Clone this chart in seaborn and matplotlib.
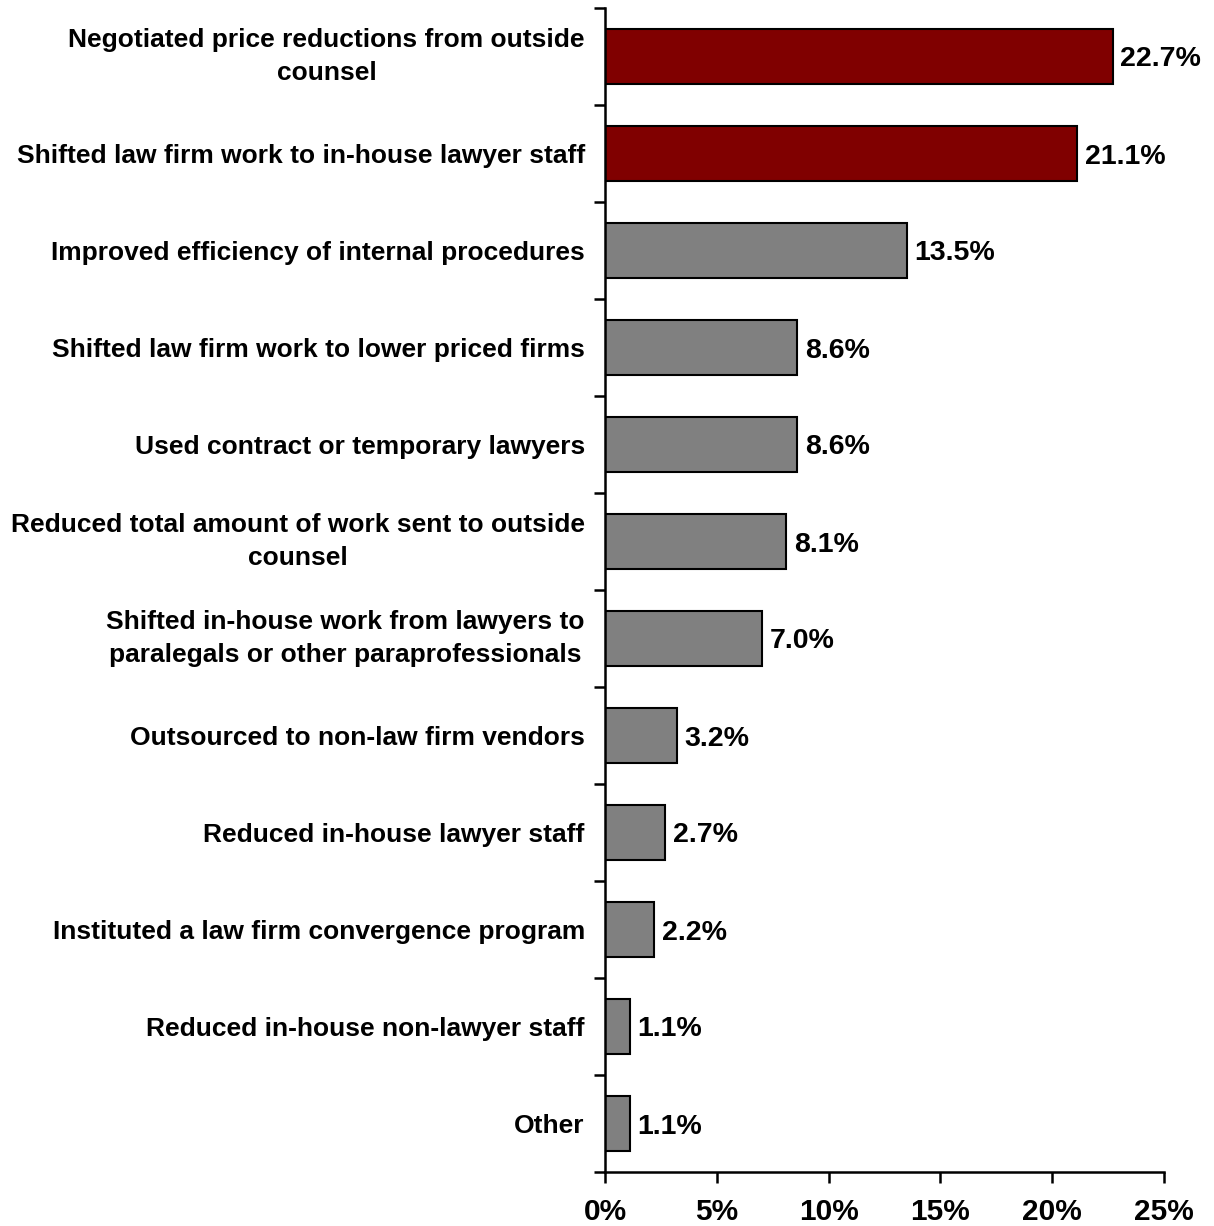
import matplotlib
matplotlib.use("Agg")
import matplotlib.pyplot as plt
import seaborn as sns
import pandas as pd
from matplotlib.ticker import FixedLocator, FuncFormatter

categories = [
    "Negotiated price reductions from outside\ncounsel",
    "Shifted law firm work to in-house lawyer staff",
    "Improved efficiency of internal procedures",
    "Shifted law firm work to lower priced firms",
    "Used contract or temporary lawyers",
    "Reduced total amount of work sent to outside\ncounsel",
    "Shifted in-house work from lawyers to\nparalegals or other paraprofessionals",
    "Outsourced to non-law firm vendors",
    "Reduced in-house lawyer staff",
    "Instituted a law firm convergence program",
    "Reduced in-house non-lawyer staff",
    "Other",
]
values = [22.7, 21.1, 13.5, 8.6, 8.6, 8.1, 7.0, 3.2, 2.7, 2.2, 1.1, 1.1]
bar_colors = ["#800000", "#800000"] + ["#808080"] * 10
x_ticks = [0, 5, 10, 15, 20, 25]

sns.set_theme(style="white")
plt.rcParams["font.family"] = ["Liberation Sans", "DejaVu Sans"]
plt.rcParams["font.weight"] = "bold"
plt.rcParams["text.color"] = "black"
plt.rcParams["xtick.color"] = "black"
plt.rcParams["ytick.color"] = "black"

df = pd.DataFrame({"category": categories, "value": values})

fig = plt.figure(figsize=(12.14, 12.26), dpi=100)
ax = fig.add_axes([605 / 1214, 1 - 1172 / 1226, (1164 - 605) / 1214, (1172 - 8) / 1226])

sns.barplot(
    data=df, x="value", y="category", hue="category",
    palette=bar_colors, legend=False, orient="h",
    edgecolor="black", linewidth=1.5, width=0.57, ax=ax, saturation=1,
)

ax.set_xlim(0, 25)
ax.set_ylim(len(categories) - 0.5, -0.5)
ax.set_xlabel("")
ax.set_ylabel("")

for spine in ["top", "right"]:
    ax.spines[spine].set_visible(False)
for spine in ["left", "bottom"]:
    ax.spines[spine].set_color("black")
    ax.spines[spine].set_linewidth(1.8)

ax.xaxis.set_major_locator(FixedLocator(x_ticks))
ax.xaxis.set_major_formatter(FuncFormatter(lambda v, p: f"{v:.0f}%"))
ax.tick_params(axis="x", direction="out", length=8, width=1.8, color="black",
               labelsize=21.5, pad=10.5, bottom=True, labelcolor="black")
for lbl in ax.get_xticklabels():
    lbl.set_fontweight("bold")

# category labels at bar centers, tick marks at slot boundaries
ax.tick_params(axis="y", which="major", length=0, pad=14.5, labelsize=19,
               labelcolor="black")
for lbl in ax.get_yticklabels():
    lbl.set_fontweight("bold")
    lbl.set_multialignment("center")
    lbl.set_linespacing(1.5)
    if "\n" in lbl.get_text():
        lbl.set_verticalalignment("center")
ax.yaxis.set_minor_locator(FixedLocator([i - 0.5 for i in range(len(categories) + 1)]))
ax.tick_params(axis="y", which="minor", direction="out", length=8, width=1.8,
               color="black", left=True)

for i, v in enumerate(values):
    ax.text(v + 0.35, i, f"{v:.1f}%", va="center_baseline", ha="left",
            fontsize=20.5, fontweight="bold", color="black")

fig.savefig("out.png", dpi=100)
